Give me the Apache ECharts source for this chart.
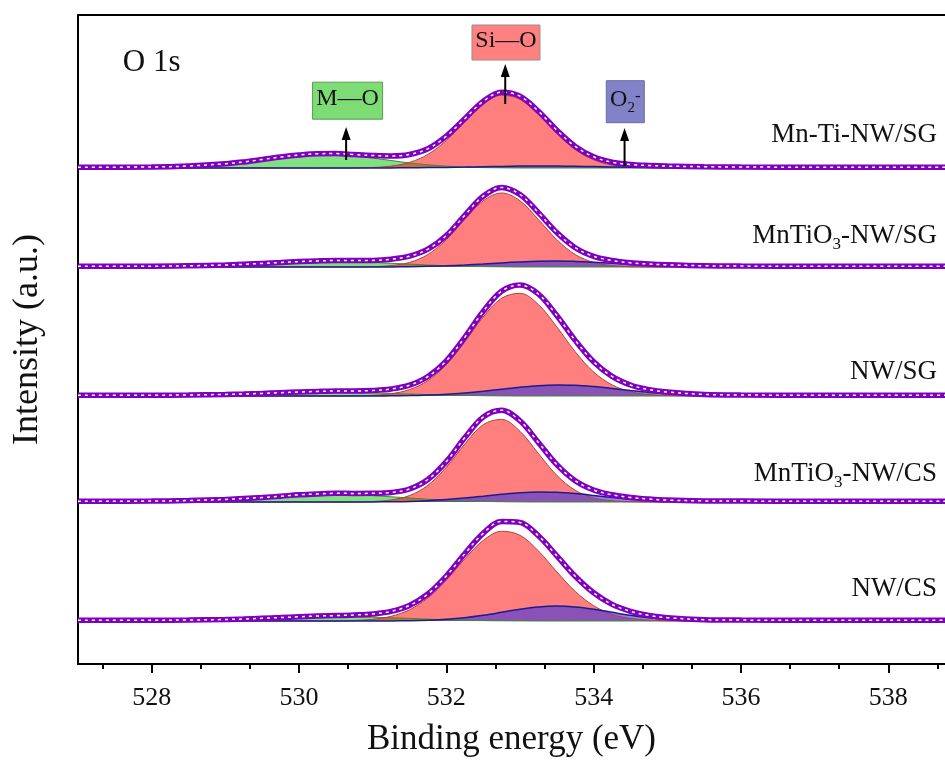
<!DOCTYPE html>
<html><head><meta charset="utf-8">
<script src="https://cdn.jsdelivr.net/npm/echarts@6/dist/echarts.min.js"></script>
<style>html,body{margin:0;padding:0;background:#fff}#c{width:945px;height:764px}</style>
</head><body><div id="c"></div>
<script>
// Binding energy grid (eV)
const energy = [527, 528, 528.5, 529, 529.25, 529.5, 529.75, 530, 530.25, 530.5, 530.75, 531, 531.25, 531.5, 531.75, 532, 532.25, 532.5, 532.75, 533, 533.25, 533.5, 533.75, 534, 534.25, 534.5, 534.75, 535, 535.5, 536, 537, 538, 539];

const sampleLabels = ['{t|Mn-Ti-NW/SG}', '{t|MnTiO}{s|3}{t|-NW/SG}', '{t|NW/SG}', '{t|MnTiO}{s|3}{t|-NW/CS}', '{t|NW/CS}'];
const stackOffsets = [496, 397, 268, 162, 43];
const xTickLabels = [528, 530, 532, 534, 536, 538];

// Mn-Ti-NW/SG
const s1Green = [0, 0.2, 0.8, 2.9, 4.7, 7.0, 9.4, 11.5, 12.8, 12.9, 11.8, 9.9, 7.5, 5.1, 3.2, 1.8, 0.9, 0.4, 0.2, 0, 0, 0, 0, 0, 0, 0, 0, 0, 0, 0, 0, 0, 0];
const s1Red = [0, 0, 0, 0, 0, 0, 0, 0, 0, 0, 0.1, 0.5, 1.9, 5.6, 13.6, 27.6, 46.1, 63.7, 72.7, 68.7, 53.6, 34.6, 18.5, 8.2, 3.0, 0.9, 0.2, 0, 0, 0, 0, 0, 0];
const s1Blue = [0, 0, 0, 0, 0, 0, 0, 0, 0, 0, 0, 0.1, 0.1, 0.2, 0.4, 0.6, 0.9, 1.3, 1.6, 1.9, 2.0, 1.9, 1.7, 1.4, 1.1, 0.7, 0.5, 0.3, 0.1, 0, 0, 0, 0];
const s1Data = [0.8, 1.0, 2.0, 4.2, 6.1, 8.5, 11.0, 13.0, 14.3, 14.4, 13.4, 12.5, 12.0, 13.5, 19.2, 31.8, 49.3, 66.6, 75.8, 71.8, 56.8, 37.8, 21.6, 11.2, 5.8, 3.5, 2.5, 1.9, 1.3, 1.0, 0.8, 0.8, 0.8];

// MnTiO3-NW/SG
const s2Green = [0, 0, 0.2, 0.8, 1.4, 2.2, 3.0, 3.9, 4.6, 5.0, 4.9, 4.5, 3.7, 2.9, 2.0, 1.3, 0.8, 0.4, 0.2, 0, 0, 0, 0, 0, 0, 0, 0, 0, 0, 0, 0, 0, 0];
const s2Red = [0, 0, 0, 0, 0, 0, 0, 0, 0, 0, 0, 0.3, 1.4, 4.6, 12.5, 27.3, 47.5, 66.2, 74.0, 66.2, 47.5, 27.3, 12.5, 4.6, 1.4, 0.3, 0, 0, 0, 0, 0, 0, 0];
const s2Blue = [0, 0, 0, 0, 0, 0, 0, 0, 0, 0, 0, 0, 0.1, 0.3, 0.7, 1.2, 2.0, 3.0, 4.1, 5.1, 5.8, 6.0, 5.6, 4.8, 3.7, 2.6, 1.6, 0.9, 0.2, 0, 0, 0, 0];
const s2Data = [0.8, 0.8, 1.2, 2.0, 2.7, 3.6, 4.5, 5.4, 6.1, 6.5, 6.5, 6.6, 7.8, 10.8, 17.8, 31.4, 51.6, 70.8, 79.6, 72.5, 54.4, 34.4, 19.3, 10.7, 6.5, 4.2, 3.0, 2.2, 1.2, 0.9, 0.8, 0.8, 0.8];

// NW/SG
const s3Green = [0, 0, 0.1, 0.6, 1.0, 1.5, 2.1, 2.7, 3.2, 3.5, 3.4, 3.1, 2.6, 2.0, 1.4, 0.9, 0.6, 0.3, 0.1, 0, 0, 0, 0, 0, 0, 0, 0, 0, 0, 0, 0, 0, 0];
const s3Red = [0, 0, 0, 0, 0, 0, 0, 0, 0, 0, 0.2, 0.7, 2.3, 6.4, 15.4, 31.3, 54.0, 78.9, 97.7, 102.7, 91.5, 69.1, 44.3, 24.0, 11.1, 4.3, 1.4, 0.4, 0, 0, 0, 0, 0];
const s3Blue = [0, 0, 0, 0, 0, 0, 0, 0, 0, 0, 0, 0, 0.2, 0.4, 0.9, 1.7, 3.0, 4.7, 6.7, 8.7, 10.3, 11.0, 10.7, 9.4, 7.6, 5.5, 3.6, 2.2, 0.6, 0.1, 0, 0, 0];
const s3Data = [0.8, 0.8, 1.0, 1.6, 2.0, 2.6, 3.3, 4.0, 4.6, 5.0, 5.0, 5.5, 7.0, 10.8, 19.5, 35.2, 58.6, 84.5, 104.8, 111.0, 102.0, 80.5, 55.6, 34.2, 19.6, 11.0, 6.4, 4.0, 1.6, 1.0, 0.8, 0.8, 0.8];

// MnTiO3-NW/CS
const s4Green = [0, 0.1, 0.3, 1.2, 2.0, 3.0, 4.2, 5.5, 6.4, 7.0, 6.9, 6.3, 5.2, 4.0, 2.8, 1.8, 1.1, 0.6, 0.3, 0.1, 0, 0, 0, 0, 0, 0, 0, 0, 0, 0, 0, 0, 0];
const s4Red = [0, 0, 0, 0, 0, 0, 0, 0, 0, 0, 0, 0.5, 2.0, 6.4, 16.7, 34.8, 57.9, 77.3, 82.6, 70.7, 48.5, 26.7, 11.7, 4.1, 1.2, 0.3, 0, 0, 0, 0, 0, 0, 0];
const s4Blue = [0, 0, 0, 0, 0, 0, 0, 0, 0, 0, 0, 0.1, 0.3, 0.6, 1.3, 2.4, 3.9, 5.8, 7.7, 9.3, 10.0, 9.7, 8.4, 6.6, 4.6, 2.9, 1.7, 0.8, 0.2, 0, 0, 0, 0];
const s4Data = [0.8, 0.9, 1.5, 2.6, 3.5, 4.5, 5.8, 7.2, 8.1, 8.7, 8.6, 8.7, 9.5, 13.0, 22.5, 40.4, 64.2, 84.9, 91.8, 81.2, 59.6, 37.4, 21.3, 12.0, 7.2, 4.6, 3.0, 1.9, 1.1, 0.9, 0.8, 0.8, 0.8];

// NW/CS
const s5Green = [0, 0, 0.1, 0.5, 0.9, 1.5, 2.1, 2.8, 3.5, 3.9, 4.0, 3.8, 3.2, 2.6, 1.9, 1.2, 0.8, 0.4, 0.2, 0.1, 0, 0, 0, 0, 0, 0, 0, 0, 0, 0, 0, 0, 0];
const s5Red = [0, 0, 0, 0, 0, 0, 0, 0, 0, 0, 0.5, 1.7, 4.7, 11.2, 23.1, 40.9, 62.0, 80.5, 89.7, 85.7, 70.1, 49.2, 29.6, 15.3, 6.7, 2.6, 0.8, 0.2, 0, 0, 0, 0, 0];
const s5Blue = [0, 0, 0, 0, 0, 0, 0, 0, 0, 0, 0, 0, 0.1, 0.3, 0.8, 1.7, 3.3, 5.7, 8.7, 11.8, 14.1, 15.0, 14.1, 11.8, 8.7, 5.7, 3.3, 1.7, 0.3, 0, 0, 0, 0];
const s5Data = [0.8, 0.8, 1.0, 1.5, 2.0, 2.7, 3.4, 4.2, 5.0, 5.4, 6.0, 7.0, 9.6, 15.6, 27.0, 45.0, 67.2, 87.6, 99.6, 98.6, 85.2, 65.2, 44.7, 28.2, 16.6, 9.7, 5.6, 3.3, 1.3, 0.9, 0.8, 0.8, 0.8];

// Peak annotations
const annoTexts = ['{t|M—O}', '{t|Si—O}', '{t|O}{s|2}{p|-}'];
const annoEnergy = [530.64, 532.8, 534.42];

const FONT = '"Liberation Serif","Times New Roman",serif';
const spectra = [
  {green: s1Green, red: s1Red, blue: s1Blue, data: s1Data},
  {green: s2Green, red: s2Red, blue: s2Blue, data: s2Data},
  {green: s3Green, red: s3Red, blue: s3Blue, data: s3Data},
  {green: s4Green, red: s4Red, blue: s4Blue, data: s4Data},
  {green: s5Green, red: s5Red, blue: s5Blue, data: s5Data}
];
const comps = [
  {key: 'green', fill: 'rgba(0,195,0,0.5)', line: '#3c8c30'},
  {key: 'red', fill: 'rgba(255,0,0,0.5)', line: '#b04040'},
  {key: 'blue', fill: 'rgba(60,50,220,0.6)', line: '#1c1c8c'}
];

const series = [];
spectra.forEach((sp, i) => {
  const off = stackOffsets[i];
  comps.forEach(c => {
    series.push({type: 'line', silent: true, showSymbol: false, symbol: 'none', smooth: 0.35,
      lineStyle: {color: c.line, width: c.key === 'blue' ? 1.5 : 1},
      areaStyle: {color: c.fill, opacity: 1, origin: off},
      data: energy.map((e, k) => [e, off + sp[c.key][k]]), z: 2});
  });
});
spectra.forEach((sp, i) => {
  const off = stackOffsets[i];
  const pts = energy.map((e, k) => [e, off + sp.data[k]]);
  series.push({type: 'line', silent: true, showSymbol: false, symbol: 'none', smooth: 0.35,
    lineStyle: {color: '#8000c0', width: 5.5}, data: pts, z: 3});
  series.push({type: 'line', silent: true, showSymbol: false, symbol: 'none', smooth: 0.35,
    lineStyle: {color: '#ffffff', width: 1.5, type: [3, 4]}, data: pts, z: 4});
});

const minorTicks = [];
for (let t = 526; t < 539; t += 2) { minorTicks.push(t + 2 / 3, t + 4 / 3); }

const X_MIN = 527, X_MAX = 538.77;
const chart = echarts.init(document.getElementById('c'), null, {renderer: 'canvas'});
chart.setOption({
  animation: false,
  backgroundColor: '#ffffff',
  grid: {left: 78, top: 15, right: 0, height: 649, containLabel: false},
  xAxis: [
    {type: 'value', min: X_MIN, max: X_MAX, position: 'bottom',
      axisLine: {show: true, lineStyle: {color: '#000', width: 2}},
      axisTick: {show: true, customValues: xTickLabels, length: 9, inside: false, lineStyle: {color: '#000', width: 2}},
      axisLabel: {show: true, customValues: xTickLabels, margin: 21, fontSize: 26, fontFamily: FONT, color: '#111'},
      splitLine: {show: false},
      name: 'Binding energy (eV)', nameLocation: 'middle', nameGap: 58,
      nameTextStyle: {fontSize: 35, fontFamily: FONT, color: '#111'}},
    {type: 'value', min: X_MIN, max: X_MAX, position: 'bottom',
      axisLine: {show: false},
      axisTick: {show: true, customValues: minorTicks.filter(v => v < X_MAX), length: 5, lineStyle: {color: '#000', width: 2}},
      axisLabel: {show: false}, splitLine: {show: false}},
    {type: 'value', min: X_MIN, max: X_MAX, position: 'top',
      axisLine: {show: true, lineStyle: {color: '#000', width: 2}},
      axisTick: {show: false}, axisLabel: {show: false}, splitLine: {show: false}}
  ],
  yAxis: {type: 'value', min: 0, max: 649,
    axisLine: {show: true, lineStyle: {color: '#000', width: 2}},
    axisTick: {show: false}, axisLabel: {show: false}, splitLine: {show: false},
    name: 'Intensity (a.u.)', nameLocation: 'middle', nameGap: 32,
    nameTextStyle: {fontSize: 36, fontFamily: FONT, color: '#111'}},
  series: series
});

function px(e, v) { return chart.convertToPixel({gridIndex: 0}, [e, v]); }
const richBase = {
  t: {fontSize: 27, fontFamily: FONT, fill: '#111', verticalAlign: 'bottom', padding: [0, 0, 4, 0]},
  s: {fontSize: 17, fontFamily: FONT, fill: '#111', verticalAlign: 'bottom'},
  p: {fontSize: 18, fontFamily: FONT, fill: '#111', verticalAlign: 'top'}
};
const graphics = [];
// sample labels
const labelRise = [31, 29, 22, 26, 30];
sampleLabels.forEach((lab, i) => {
  const p = px(538.66, stackOffsets[i] + labelRise[i]);
  graphics.push({type: 'text', z: 100, style: {text: lab, x: p[0], y: p[1], align: 'right', verticalAlign: 'middle', rich: richBase}});
});
// O 1s
const po = px(528.0, 601);
graphics.push({type: 'text', z: 100, style: {text: 'O 1s', x: po[0], y: po[1], align: 'center', verticalAlign: 'middle', fontSize: 31, fontFamily: FONT, fill: '#111'}});
// annotation boxes + arrows
const annoArrowFrom = [504, 560, 498];
const annoArrowTo = [537, 600, 536];
const annoBoxY = [563.3, 621.5, 562.3];
const annoBoxE = [530.66, 532.81, 534.43];
const annoBoxSize = [[70, 37], [68, 35], [38, 42]];
const annoFill = ['#7ddc74', '#ff8080', '#8282c8'];
const annoStroke = ['#5a9a50', '#a08a8a', '#6a6aa8'];
const annoRich = {
  t: {fontSize: 24, fontFamily: FONT, fill: '#111', verticalAlign: 'bottom', padding: [0, 0, 3, 0]},
  s: {fontSize: 15, fontFamily: FONT, fill: '#111', verticalAlign: 'bottom'},
  p: {fontSize: 17, fontFamily: FONT, fill: '#111', verticalAlign: 'top'}
};
annoTexts.forEach((txt, i) => {
  const c = px(annoBoxE[i], annoBoxY[i]);
  const w = annoBoxSize[i][0], h = annoBoxSize[i][1];
  graphics.push({type: 'rect', z: 100, shape: {x: c[0] - w / 2, y: c[1] - h / 2, width: w, height: h},
    style: {fill: annoFill[i], stroke: annoStroke[i], lineWidth: 1}});
  graphics.push({type: 'text', z: 101, style: {text: txt, x: c[0], y: c[1], align: 'center', verticalAlign: 'middle', rich: annoRich}});
  const a = px(annoEnergy[i], annoArrowFrom[i]);
  const b = px(annoEnergy[i], annoArrowTo[i]);
  graphics.push({type: 'line', z: 100, shape: {x1: a[0], y1: a[1], x2: b[0], y2: b[1] + 10}, style: {stroke: '#000', lineWidth: 2}});
  graphics.push({type: 'polygon', z: 100, shape: {points: [[b[0] - 4.5, b[1] + 13], [b[0] + 4.5, b[1] + 13], [b[0], b[1]]]}, style: {fill: '#000'}});
});
chart.setOption({graphic: graphics});
</script>
</body></html>
